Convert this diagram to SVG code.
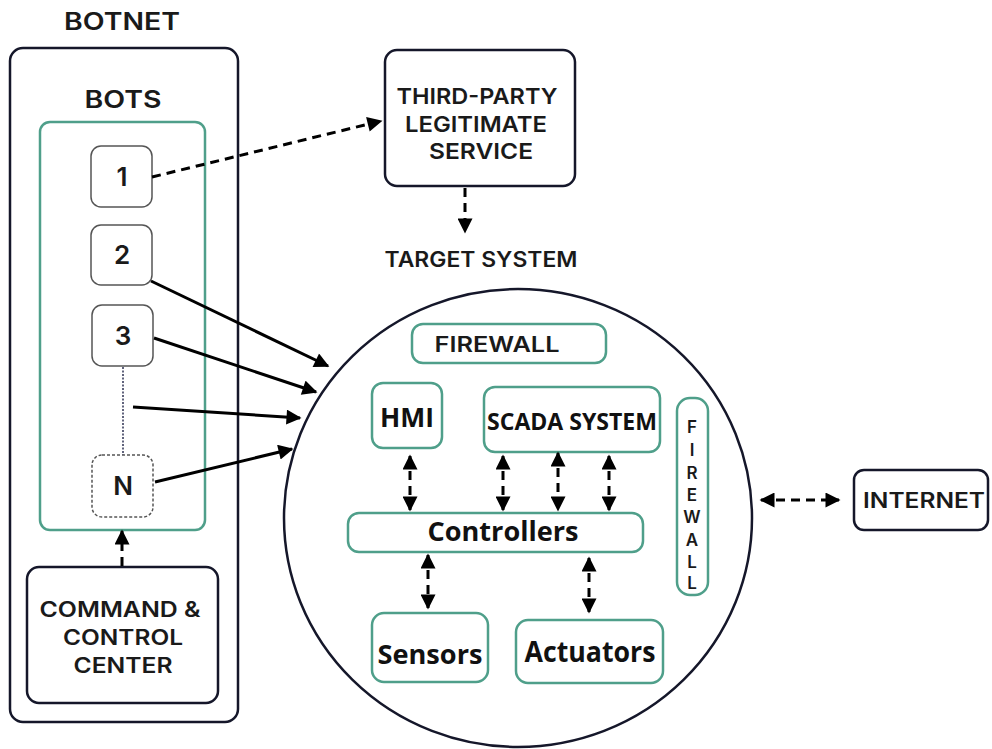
<svg xmlns="http://www.w3.org/2000/svg" width="992" height="749" viewBox="0 0 992 749">
  <style>
    .cap { font-family: "Inter", "Liberation Sans", sans-serif; font-weight: 600; fill: #1a1a1a; text-anchor: middle; }
    .bold { font-family: "Open Sans", "Liberation Sans", sans-serif; font-weight: 700; fill: #111; text-anchor: middle; }
    .frame { fill: none; stroke: #15172a; stroke-width: 2.5; }
    .green { fill: #fff; stroke: #4f9f8a; stroke-width: 2.5; }
    .bot { fill: #fff; stroke: #555; stroke-width: 1.5; }
    .solid { fill: none; stroke: #000; stroke-width: 3; marker-end: url(#ah); }
    .dash { fill: none; stroke: #000; stroke-width: 3; stroke-dasharray: 9 6; }
  </style>
  <defs>
    <marker id="ah" viewBox="0 0 10 10" refX="9" refY="5" markerWidth="16" markerHeight="15" markerUnits="userSpaceOnUse" orient="auto-start-reverse">
      <path d="M0,0 L10,5 L0,10 z" fill="#000"/>
    </marker>
  </defs>
  <rect width="992" height="749" fill="#fff"/>

  <!-- Botnet container -->
  <g id="botnet">
    <text class="cap" x="122" y="30" font-size="24" textLength="116" lengthAdjust="spacingAndGlyphs">BOTNET</text>
    <rect class="frame" x="10" y="48" width="228" height="674" rx="13"/>
  </g>

  <g id="bots">
    <text class="cap" x="123" y="108" font-size="24" textLength="77" lengthAdjust="spacingAndGlyphs">BOTS</text>
    <rect class="green" x="40" y="122" width="165" height="408" rx="10"/>
  </g>

  <g id="bot-1">
    <rect class="bot" x="91" y="146" width="61" height="61" rx="10"/>
    <text class="cap" x="122" y="186" font-size="26" font-weight="500">1</text>
  </g>
  <g id="bot-2">
    <rect class="bot" x="91" y="225" width="61" height="60" rx="10"/>
    <text class="cap" x="122" y="264" font-size="26" font-weight="500">2</text>
  </g>
  <g id="bot-3">
    <rect class="bot" x="92" y="305" width="61" height="61" rx="10"/>
    <text class="cap" x="123" y="345" font-size="26" font-weight="500">3</text>
  </g>
  <g id="bot-n">
    <rect class="bot" x="92" y="455" width="61" height="62" rx="10" stroke-dasharray="3 2"/>
    <text class="cap" x="123" y="495" font-size="26" font-weight="500">N</text>
  </g>

  <g id="command-control">
    <rect class="frame" x="27" y="567" width="191" height="136" rx="12"/>
    <text class="cap" x="120" y="617" font-size="21" textLength="161" lengthAdjust="spacingAndGlyphs">COMMAND &amp;</text>
    <text class="cap" x="123" y="645" font-size="21" textLength="120" lengthAdjust="spacingAndGlyphs">CONTROL</text>
    <text class="cap" x="123" y="673" font-size="21" textLength="99" lengthAdjust="spacingAndGlyphs">CENTER</text>
  </g>

  <g id="third-party">
    <rect class="frame" x="385" y="50" width="190" height="136" rx="12"/>
    <text class="cap" x="477" y="104" font-size="22" textLength="161" lengthAdjust="spacingAndGlyphs">THIRD-PARTY</text>
    <text class="cap" x="476" y="132" font-size="22" textLength="142" lengthAdjust="spacingAndGlyphs">LEGITIMATE</text>
    <text class="cap" x="481" y="159" font-size="22" textLength="104" lengthAdjust="spacingAndGlyphs">SERVICE</text>
  </g>

  <!-- Target system -->
  <g id="target-system">
    <text class="cap" x="481" y="267" font-size="21" textLength="193" lengthAdjust="spacingAndGlyphs">TARGET SYSTEM</text>
    <ellipse class="frame" cx="518" cy="518" rx="234" ry="229"/>
  </g>

  <g id="firewall-top">
    <rect class="green" x="412" y="324" width="194" height="39" rx="11"/>
    <text class="cap" x="497" y="352" font-size="21" font-weight="500" textLength="125" lengthAdjust="spacingAndGlyphs">FIREWALL</text>
  </g>

  <g id="hmi">
    <rect class="green" x="372" y="383" width="70" height="65" rx="11"/>
    <text class="bold" x="407" y="427" font-size="27" textLength="54" lengthAdjust="spacingAndGlyphs">HMI</text>
  </g>

  <g id="scada">
    <rect class="green" x="484" y="387" width="176" height="65" rx="11"/>
    <text class="bold" x="572" y="430" font-size="23" textLength="170" lengthAdjust="spacingAndGlyphs">SCADA SYSTEM</text>
  </g>

  <g id="firewall-side">
    <rect class="green" x="677" y="398" width="31" height="197" rx="13"/>
    <g class="cap" font-size="17" font-weight="500">
      <text x="692" y="433">F</text>
      <text x="692" y="456">I</text>
      <text x="692" y="479">R</text>
      <text x="692" y="501">E</text>
      <text x="692" y="523">W</text>
      <text x="692" y="546">A</text>
      <text x="692" y="568">L</text>
      <text x="692" y="589">L</text>
    </g>
  </g>

  <g id="controllers">
    <rect class="green" x="348" y="513" width="295" height="39" rx="11"/>
    <text class="bold" x="503" y="541" font-size="26" textLength="151" lengthAdjust="spacingAndGlyphs">Controllers</text>
  </g>

  <g id="sensors">
    <rect class="green" x="372" y="613" width="116" height="69" rx="12"/>
    <text class="bold" x="430" y="664" font-size="27" textLength="105" lengthAdjust="spacingAndGlyphs">Sensors</text>
  </g>

  <g id="actuators">
    <rect class="green" x="516" y="620" width="147" height="63" rx="12"/>
    <text class="bold" x="590" y="662" font-size="29" textLength="131" lengthAdjust="spacingAndGlyphs">Actuators</text>
  </g>

  <g id="internet">
    <rect class="frame" x="854" y="470" width="134" height="60" rx="10"/>
    <text class="cap" x="924" y="508" font-size="21" textLength="122" lengthAdjust="spacingAndGlyphs">INTERNET</text>
  </g>

  <!-- Connectors -->
  <g id="connectors">
    <line class="dash" x1="152" y1="177" x2="381" y2="121" marker-end="url(#ah)"/>
    <line class="dash" x1="465" y1="188" x2="465" y2="232" marker-end="url(#ah)"/>
    <line class="dash" x1="122" y1="566" x2="122" y2="531" marker-end="url(#ah)"/>

    <line x1="123" y1="367" x2="123" y2="455" stroke="#3a3d5c" stroke-width="1.6" stroke-dasharray="2 1.5"/>

    <line class="solid" x1="151" y1="281" x2="328" y2="366"/>
    <line class="solid" x1="154" y1="338" x2="316" y2="392"/>
    <line class="solid" x1="133" y1="407" x2="300" y2="418"/>
    <line class="solid" x1="155" y1="482" x2="292" y2="449"/>

    <g class="dash" stroke-dasharray="7 5">
      <line x1="410" y1="456" x2="410" y2="510" marker-start="url(#ah)" marker-end="url(#ah)"/>
      <line x1="503" y1="456" x2="503" y2="510" marker-start="url(#ah)" marker-end="url(#ah)"/>
      <line x1="558" y1="453" x2="558" y2="510" marker-start="url(#ah)" marker-end="url(#ah)"/>
      <line x1="609" y1="456" x2="609" y2="510" marker-start="url(#ah)" marker-end="url(#ah)"/>
      <line x1="428" y1="555" x2="428" y2="608" marker-start="url(#ah)" marker-end="url(#ah)"/>
      <line x1="589" y1="558" x2="589" y2="612" marker-start="url(#ah)" marker-end="url(#ah)"/>
    </g>

    <line class="dash" x1="761" y1="500" x2="839" y2="500" stroke-dasharray="10 10" marker-start="url(#ah)" marker-end="url(#ah)"/>
  </g>
</svg>
